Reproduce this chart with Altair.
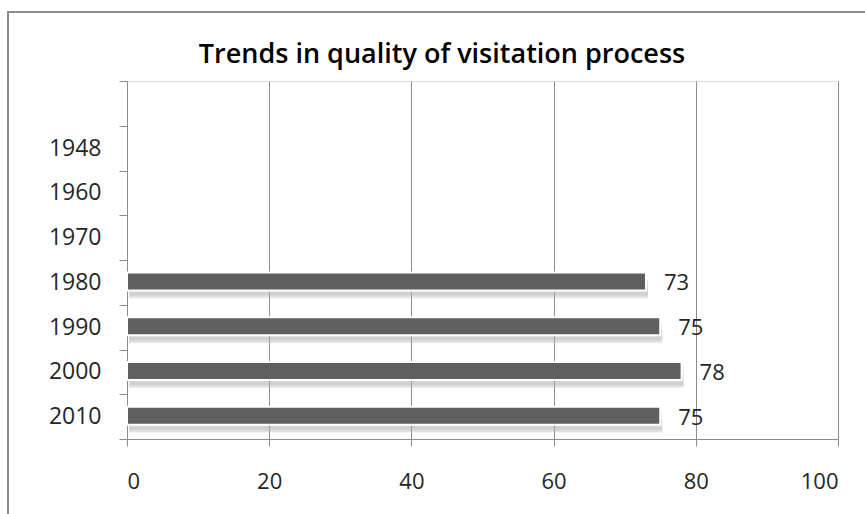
import altair as alt
import pandas as pd

# Category axis (top to bottom); the first slot is an unlabeled spacer row
years = ["", "1948", "1960", "1970", "1980", "1990", "2000", "2010"]
# Quality scores; earlier decades have no value
scores = [None, None, None, None, 73, 75, 78, 75]
TITLE = "Trends in quality of visitation process"

df = pd.DataFrame({"year": years, "score": scores})
bars_df = df.dropna()

FONT = "Open Sans"
TXT = "#262626"

y_enc = alt.Y(
    "year:N",
    sort=years,
    scale=alt.Scale(domain=years, paddingInner=0, paddingOuter=0),
    axis=alt.Axis(
        title=None,
        tickBand="extent",
        domainColor="#8c8c8c",
        tickColor="#8c8c8c",
        tickSize=8,
        labelPadding=18,
        labelFontSize=23,
        labelFont=FONT,
        labelColor=TXT,
        grid=False,
    ),
)
x_enc = alt.X(
    "score:Q",
    scale=alt.Scale(domain=[0, 100], nice=False),
    axis=alt.Axis(
        title=None,
        values=[0, 20, 40, 60, 80, 100],
        grid=True,
        gridColor="#8c8c8c",
        domainColor="#8c8c8c",
        tickColor="#8c8c8c",
        tickSize=7,
        labelPadding=25,
        labelFontSize=22,
        labelFont=FONT,
        labelColor=TXT,
    ),
)

base = alt.Chart(bars_df)
y_plain = alt.Y("year:N", sort=years)

# soft drop shadow under each bar (stacked translucent strips)
shadow = base.mark_bar(size=16, color="#9a9a9a", opacity=0.25, yOffset=5, xOffset=2).encode(
    x=x_enc, y=y_enc
)
shadow2 = base.mark_bar(size=12, color="#a8a8a8", opacity=0.25, yOffset=9, xOffset=2).encode(
    x="score:Q", y=y_plain
)
shadow3 = base.mark_bar(size=6, color="#c0c0c0", opacity=0.25, yOffset=13, xOffset=2).encode(
    x="score:Q", y=y_plain
)

bars = base.mark_bar(size=18, color="#5f5f5f", stroke="white", strokeWidth=2, yOffset=-1).encode(
    x="score:Q", y=y_plain
)

labels = base.mark_text(
    align="left", baseline="middle", dx=18, yOffset=1, fontSize=22, font=FONT, color=TXT
).encode(x="score:Q", y=y_plain, text="score:Q")

# outer chart-area frame
frame = alt.Chart(df.head(1)).mark_rect(
    fill=None, stroke="#8c8c8c", strokeWidth=2, clip=False
).encode(
    x=alt.value(-119), x2=alt.value(760), y=alt.value(-69), y2=alt.value(500)
)

# chart title, centred on the chart area rather than the plot area
title = alt.Chart(pd.DataFrame({"t": [TITLE]})).mark_text(
    align="center", baseline="alphabetic", font=FONT, fontSize=27, fontWeight=600, color="#000000"
).encode(x=alt.value(315), y=alt.value(-18), text="t:N")

chart = (
    alt.layer(frame, shadow, shadow2, shadow3, bars, labels, title)
    .properties(
        width=711,
        height=358,
        padding={"left": 127, "top": 81, "right": 27, "bottom": 75},
        autosize=alt.AutoSizeParams(type="none"),
    )
    .configure_view(stroke=None)
    .configure(background="white")
)

chart.save("out.html", embed_options={"renderer": "svg", "actions": False})
